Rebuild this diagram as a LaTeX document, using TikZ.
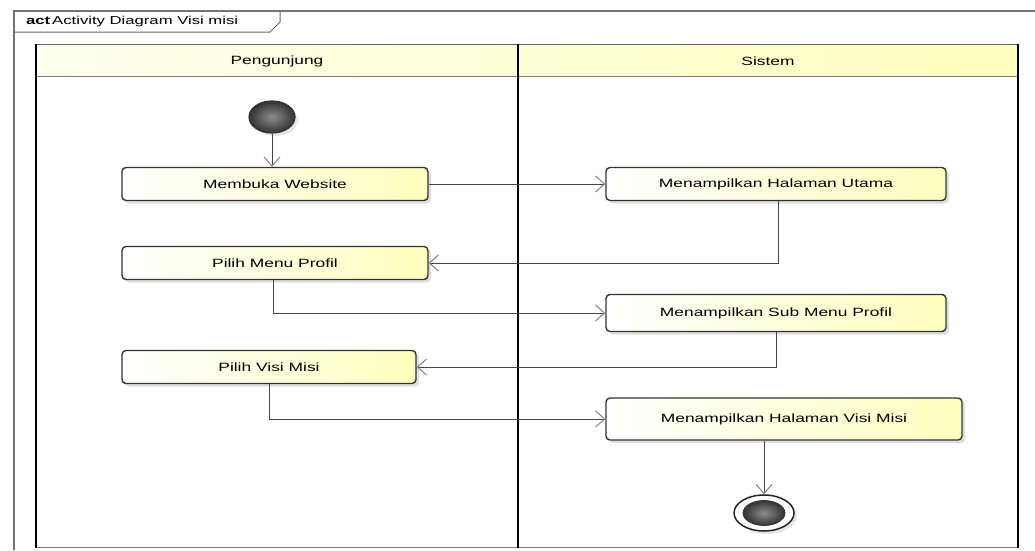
\documentclass[tikz,border=0pt]{standalone}
\usepackage{fontspec}
\setmainfont[FakeStretch=1.45]{Liberation Sans}
\usetikzlibrary{arrows.meta,shadows,shapes.geometric,calc}
\definecolor{lightyel}{RGB}{255,255,238}
\definecolor{yel}{RGB}{255,255,190}
\definecolor{edgecol}{RGB}{70,70,70}
\definecolor{tipcol}{RGB}{130,130,130}
\tikzset{
  action/.style={draw=black!80, line width=1.4pt, rounded corners=4pt,
    left color=white, right color=yel, minimum height=33pt,
    font=\fontsize{12}{14}\selectfont,
    drop shadow={opacity=0.25, shadow xshift=3pt, shadow yshift=-3pt}},
  flow/.style={draw=edgecol, line width=0.9pt,
    -{Straight Barb[length=9pt,width=16pt,line width=1pt,color=tipcol]}},
  lane/.style={draw=black, line width=2.4pt},
  hdr/.style={font=\fontsize{12}{14}\selectfont},
}
\begin{document}
\begin{tikzpicture}[x=1pt,y=-1pt]
\useasboundingbox (0,0) rectangle (1035,550);
\fill[white] (0,0) rectangle (1035,550);
% outer frame
\draw[black!55, line width=1.2pt] (14,550) -- (14,11) -- (1035,11);
\draw[black!60, line width=1pt] (14,32) -- (270,32) -- (280,22) -- (280,11);
\node[anchor=west, font=\fontsize{11.5}{14}\selectfont, inner sep=0] (title) at (26,22)
  {\textbf{act}\,Activity Diagram Visi misi};
% swimlane header
\shade[left color=lightyel, right color=yel] (36,44) rectangle (1018,76);
\draw[black!50, line width=1pt] (36,76) -- (1018,76);
\draw[black!60, line width=1pt] (36,44) -- (1018,44);
\draw[black!50, line width=1pt] (36,547) -- (1018,547);
\draw[lane] (36,44) -- (36,548);
\draw[lane] (518,44) -- (518,548);
\draw[lane] (1018,44) -- (1018,548);
\node[hdr] (lane1) at (277,61) {Pengunjung};
\node[hdr] (lane2) at (768,61) {Sistem};
% start
\node[ellipse, minimum width=46pt, minimum height=32pt, draw=black!80, line width=1.2pt,
  inner color=black!45, outer color=black!80,
  drop shadow={opacity=0.2, shadow xshift=3pt, shadow yshift=-3pt}] (start) at (272,117) {};
% actions
\node[action, minimum width=306pt] (mw) at (275,184) {Membuka Website};
\node[action, minimum width=306pt] (pmp) at (275,263) {Pilih Menu Profil};
\node[action, minimum width=294pt] (pvm) at (269,367) {Pilih Visi Misi};
\node[action, minimum width=340pt] (hu) at (776,184) {Menampilkan Halaman Utama};
\node[action, minimum width=340pt, minimum height=37pt] (sub) at (776,313) {Menampilkan Sub Menu Profil};
\node[action, minimum width=356pt, minimum height=42pt] (hvm) at (784,419) {Menampilkan Halaman Visi Misi};
% end
\node[ellipse, minimum width=60pt, minimum height=36pt, draw=black!85, line width=1.5pt, fill=white,
  drop shadow={opacity=0.2, shadow xshift=3pt, shadow yshift=-3pt}] (end) at (764,513) {};
\node[ellipse, minimum width=42pt, minimum height=25pt, draw=black!80, line width=0.8pt,
  inner color=black!45, outer color=black!80] (endin) at (end.center) {};
% flows
\draw[flow] (start.south) -- (mw.north -| start.south);
\draw[flow] (mw.east) -- (hu.west);
\draw[flow] (hu.south -| 778,0) |- (pmp.east);
\draw[flow] (pmp.south -| 273,0) |- (sub.west);
\draw[flow] (sub.south) |- (pvm.east);
\draw[flow] (pvm.south) |- (hvm.west);
\draw[flow] (hvm.south -| end.north) -- (end.north);
\end{tikzpicture}
\end{document}
